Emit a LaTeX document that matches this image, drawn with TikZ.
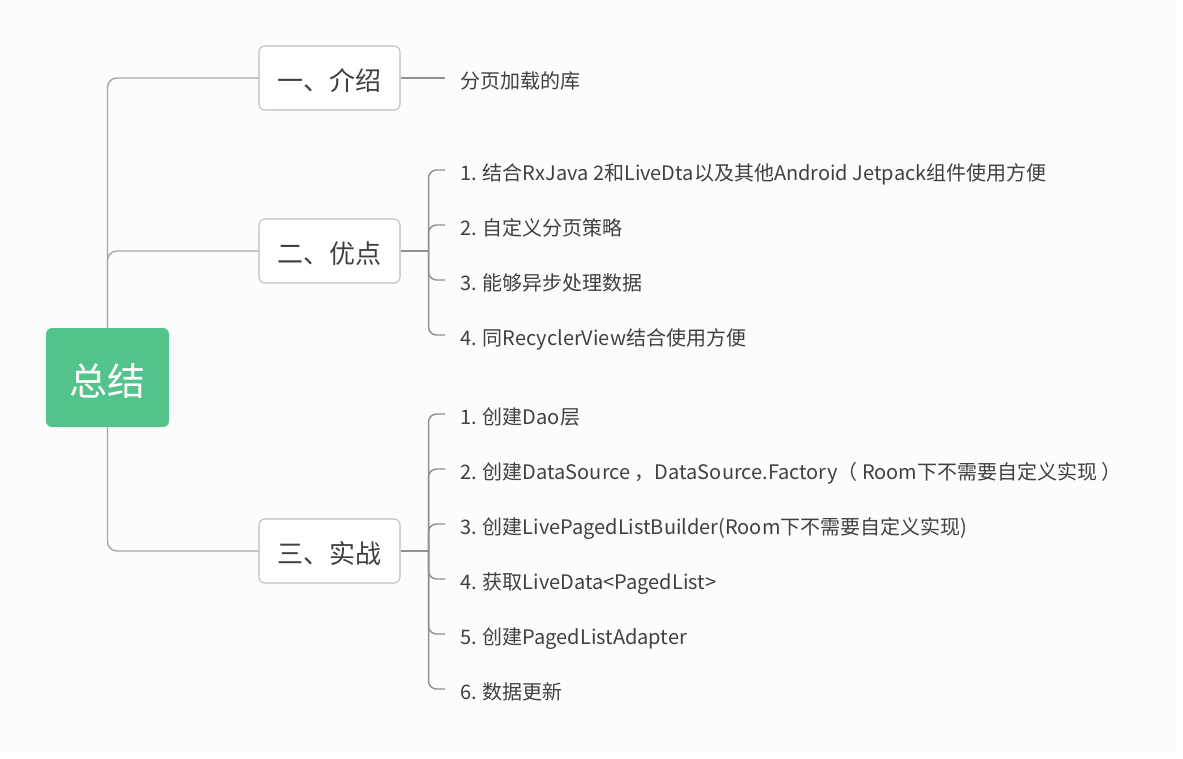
\documentclass[tikz,border=0pt]{standalone}
\usepackage{fontspec}
\setmainfont{Noto Sans CJK SC}
\usetikzlibrary{positioning}

\definecolor{rootgreen}{HTML}{52C48B}
\definecolor{boxline}{HTML}{BDBDBD}
\definecolor{linkgray}{HTML}{A8A8A8}
\definecolor{subgray}{HTML}{909090}
\definecolor{txtgray}{HTML}{404040}
\definecolor{canvas}{HTML}{FCFCFC}

\begin{document}
\begin{tikzpicture}[
    x=0.75pt, y=-0.75pt, % one unit = one pixel of the reference, y downwards
    root/.style={fill=rootgreen, rounded corners=4.5pt, minimum width=92.25pt, minimum height=74.25pt, text=white, text height=26.8pt, text depth=0pt, font=\fontsize{28.5}{32}\selectfont},
    topic/.style={draw=boxline, line width=0.8pt, fill=white, rounded corners=4.5pt, minimum width=105.75pt, minimum height=48pt, text=txtgray, text height=18.6pt, text depth=0pt, font=\fontsize{19.5}{23}\selectfont},
    leaf/.style={anchor=west, inner xsep=11.25pt, inner ysep=1pt, text=txtgray, text height=15.2pt, text depth=0pt, font=\fontsize{15}{18}\selectfont},
    link/.style={draw=linkgray, line width=1.1pt, rounded corners=7pt},
    sublink/.style={draw=subgray, line width=1.1pt, rounded corners=6pt}
]

% Canvas
\fill[white] (0,0) rectangle (1183,758);
\fill[canvas] (0,0) rectangle (1177,752);
\useasboundingbox (0,0) rectangle (1183,758);

% Main topics
\node[topic] (intro) at (329.5,78) {一、介绍};
\node[topic] (pros) at (329.5,251) {二、优点};
\node[topic] (prac) at (329.5,551) {三、实战};

% Connectors from the root
\draw[link] (107.5,377) |- (intro.west);
\draw[link] (107.5,377) |- (pros.west);
\draw[link] (107.5,377) |- (prac.west);

% Root
\node[root] (root) at (107.5,377.5) {总结};

% Intro leaf
\node[leaf] (intro1) at (445,78) {分页加载的库};
\draw[sublink] (intro.east) -- (intro1.west);

% Pros leaves
\node[leaf] (pros1) at (445,170) {1. 结合RxJava 2和LiveDta以及其他Android Jetpack组件使用方便};
\node[leaf] (pros2) at (445,225) {2. 自定义分页策略};
\node[leaf] (pros3) at (445,280) {3. 能够异步处理数据};
\node[leaf] (pros4) at (445,335) {4. 同RecyclerView结合使用方便};

\coordinate (prosj) at ([xshift=21pt]pros.east);
\draw[sublink] (pros.east) -- (prosj);
\foreach \n in {pros1,pros2,pros3,pros4}
    \draw[sublink] (prosj) |- (\n.west);

% Practice leaves
\node[leaf] (prac1) at (445,414) {1. 创建Dao层};
\node[leaf] (prac2) at (445,469) {2. 创建DataSource ，DataSource.Factory（ Room下不需要自定义实现 ）};
\node[leaf] (prac3) at (445,524) {3. 创建LivePagedListBuilder(Room下不需要自定义实现)};
\node[leaf] (prac4) at (445,579) {4. 获取LiveData<PagedList>};
\node[leaf] (prac5) at (445,634) {5. 创建PagedListAdapter};
\node[leaf] (prac6) at (445,689) {6. 数据更新};

\coordinate (pracj) at ([xshift=21pt]prac.east);
\draw[sublink] (prac.east) -- (pracj);
\foreach \n in {prac1,prac2,prac3,prac4,prac5,prac6}
    \draw[sublink] (pracj) |- (\n.west);

\end{tikzpicture}
\end{document}
